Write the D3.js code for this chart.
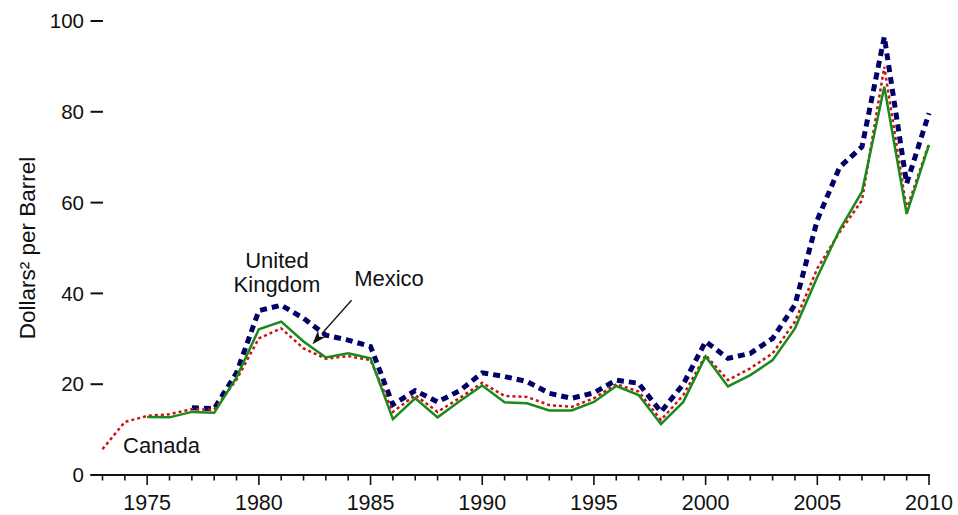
<!DOCTYPE html>
<html>
<head>
<meta charset="utf-8">
<script src="https://cdn.jsdelivr.net/npm/d3@7"></script>
<style>
  html, body { margin: 0; padding: 0; background: #fff; }
  svg { display: block; }
  text { font-family: "Liberation Sans", Arial, Helvetica, sans-serif; fill: #111; }
</style>
</head>
<body>
<svg id="chart" width="958" height="515"></svg>
<script>
// ---- Data ----
const years = d3.range(1973, 2011);
const canada = [5.7, 11.7, 13.0, 13.4, 14.5, 14.4, 21.0, 30.1, 32.3, 27.9, 25.6, 26.2, 25.3,
  13.9, 17.6, 13.9, 17.0, 20.3, 17.4, 17.2, 15.4, 15.0, 16.9, 20.0, 18.4, 12.1, 17.6,
  26.4, 20.9, 23.5, 26.8, 33.8, 45.5, 53.5, 60.5, 89.9, 58.5, 73.0];
const mexico = [null, null, 12.8, 12.7, 13.9, 13.7, 21.5, 32.1, 33.8, 29.4, 25.9, 26.8, 25.7,
  12.3, 16.9, 12.7, 16.3, 19.7, 16.0, 15.8, 14.2, 14.2, 16.1, 19.6, 17.6, 11.2, 16.1,
  26.1, 19.5, 22.0, 25.3, 32.3, 43.6, 54.0, 62.4, 85.5, 57.5, 72.7];
const unitedKingdom = [null, null, null, null, 14.8, 14.6, 22.5, 36.2, 37.4, 34.5, 30.8, 29.7, 28.3,
  15.5, 18.6, 16.1, 18.6, 22.5, 21.7, 20.6, 18.0, 16.9, 18.1, 20.9, 20.2, 13.9, 20.0,
  29.4, 25.7, 26.8, 30.1, 37.5, 56.2, 67.8, 72.3, 96.5, 64.2, 79.7];
const yTicks = [0, 20, 40, 60, 80, 100];
const xMajorTicks = [1975, 1980, 1985, 1990, 1995, 2000, 2005, 2010];
const yLabel = "Dollars\u00B2 per Barrel";

// ---- Scales ----
const svg = d3.select("#chart");
const x = d3.scaleLinear().domain([1973, 2010]).range([102.5, 929]);
const y = d3.scaleLinear().domain([0, 100]).range([475, 21]);

// ---- Axes ----
svg.append("line")
  .attr("x1", 90.5).attr("x2", x(2010) + 1)
  .attr("y1", y(0)).attr("y2", y(0))
  .attr("stroke", "#111").attr("stroke-width", 2);

const xg = svg.append("g").attr("transform", `translate(0,${y(0)})`);
xg.selectAll("line.minor").data(years).join("line")
  .attr("class", "minor")
  .attr("x1", d => x(d)).attr("x2", d => x(d))
  .attr("y1", 0).attr("y2", d => xMajorTicks.includes(d) ? 10 : 5.5)
  .attr("stroke", "#111").attr("stroke-width", 1.6);
xg.selectAll("text").data(xMajorTicks).join("text")
  .attr("x", d => x(d)).attr("y", 34.5)
  .attr("text-anchor", "middle")
  .attr("font-size", 21.5)
  .text(d => d);

const yg = svg.append("g");
yg.selectAll("line").data(yTicks).join("line")
  .attr("x1", 90.5).attr("x2", 103)
  .attr("y1", d => y(d)).attr("y2", d => y(d))
  .attr("stroke", "#111").attr("stroke-width", 2);
yg.selectAll("text").data(yTicks).join("text")
  .attr("x", 84).attr("y", d => y(d))
  .attr("dy", "0.35em")
  .attr("text-anchor", "end")
  .attr("font-size", 20.5)
  .text(d => d);

svg.append("text")
  .attr("transform", `translate(35,${(y(0)+y(100))/2}) rotate(-90)`)
  .attr("text-anchor", "middle")
  .attr("font-size", 22.5)
  .text(yLabel);

// ---- Lines ----
const line = d3.line()
  .defined(d => d[1] != null)
  .x(d => x(d[0])).y(d => y(d[1]));

svg.append("path")
  .datum(years.map((yr, i) => [yr, unitedKingdom[i]]))
  .attr("d", line)
  .attr("fill", "none")
  .attr("stroke", "#000066")
  .attr("stroke-width", 5)
  .attr("stroke-dasharray", "7,5");

svg.append("path")
  .datum(years.map((yr, i) => [yr, canada[i]]))
  .attr("d", line)
  .attr("fill", "none")
  .attr("stroke", "#cc1111")
  .attr("stroke-width", 2.5)
  .attr("stroke-dasharray", "3,3");

svg.append("path")
  .datum(years.map((yr, i) => [yr, mexico[i]]))
  .attr("d", line)
  .attr("fill", "none")
  .attr("stroke", "#1a8a1a")
  .attr("stroke-width", 2.5);

// ---- Annotations ----
svg.append("text").attr("x", 123).attr("y", 453)
  .attr("font-size", 22).text("Canada");
svg.append("text").attr("x", 277).attr("y", 268)
  .attr("text-anchor", "middle").attr("font-size", 22).text("United");
svg.append("text").attr("x", 277).attr("y", 292)
  .attr("text-anchor", "middle").attr("font-size", 22).text("Kingdom");
svg.append("text").attr("x", 389).attr("y", 286)
  .attr("text-anchor", "middle").attr("font-size", 22).text("Mexico");

// arrow to Mexico line
const tail = [x(1984.15), y(38.5)];
const tip = [x(1982.4), y(28.8)];
const ang = Math.atan2(tip[1] - tail[1], tip[0] - tail[0]);
const hl = 14, hw = 5;
const base = [tip[0] - hl * Math.cos(ang), tip[1] - hl * Math.sin(ang)];
svg.append("line")
  .attr("x1", tail[0]).attr("y1", tail[1])
  .attr("x2", base[0]).attr("y2", base[1])
  .attr("stroke", "#111").attr("stroke-width", 1.3);
svg.append("path")
  .attr("d", `M${tip[0]},${tip[1]}
    L${base[0] + hw * Math.sin(ang)},${base[1] - hw * Math.cos(ang)}
    L${base[0] + 4 * Math.cos(ang)},${base[1] + 4 * Math.sin(ang)}
    L${base[0] - hw * Math.sin(ang)},${base[1] + hw * Math.cos(ang)}Z`)
  .attr("fill", "#111");
</script>
</body>
</html>
